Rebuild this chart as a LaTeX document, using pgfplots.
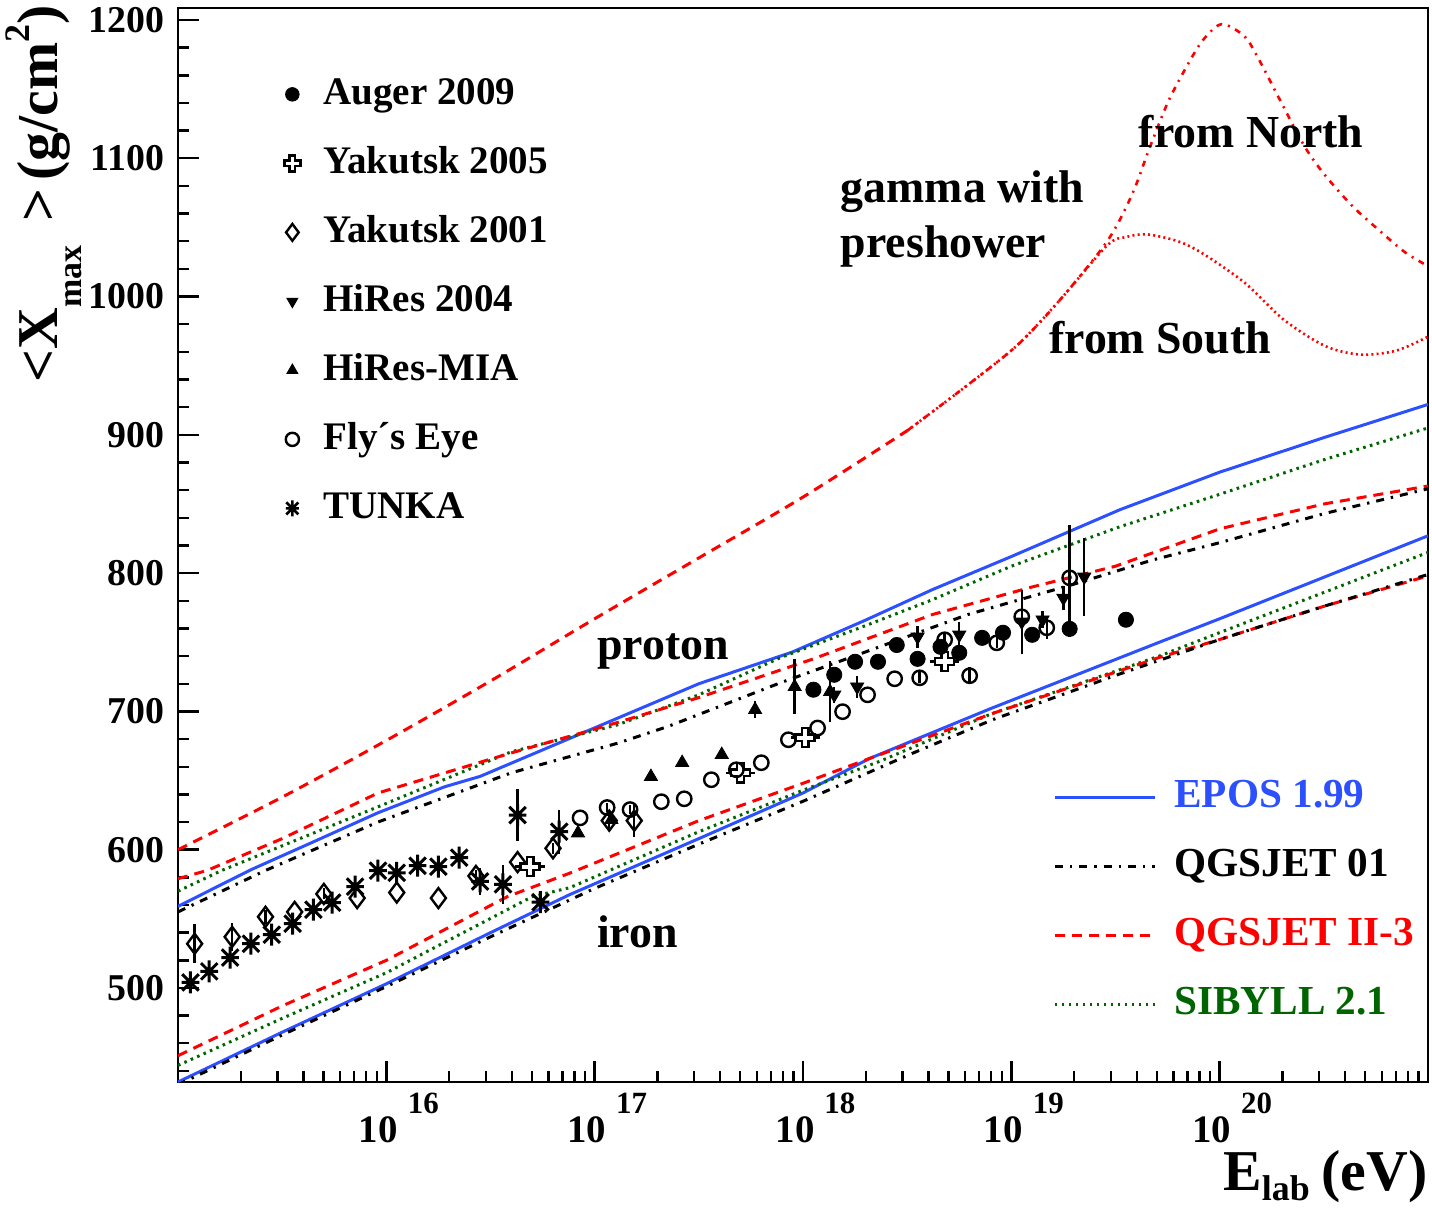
\documentclass[border=0pt]{standalone}
\usepackage{fontspec}
\setmainfont{Liberation Serif}
\usepackage{pgfplots}
\pgfplotsset{compat=1.18}
\usetikzlibrary{plotmarks}

\definecolor{eposblue}{RGB}{45,80,255}
\definecolor{sibgreen}{RGB}{0,100,0}
\definecolor{qred}{RGB}{255,0,0}

\pgfdeclareplotmark{ocross}{%
  \pgfpathmoveto{\pgfqpoint{-0.35\pgfplotmarksize}{\pgfplotmarksize}}%
  \pgfpathlineto{\pgfqpoint{0.35\pgfplotmarksize}{\pgfplotmarksize}}%
  \pgfpathlineto{\pgfqpoint{0.35\pgfplotmarksize}{0.35\pgfplotmarksize}}%
  \pgfpathlineto{\pgfqpoint{\pgfplotmarksize}{0.35\pgfplotmarksize}}%
  \pgfpathlineto{\pgfqpoint{\pgfplotmarksize}{-0.35\pgfplotmarksize}}%
  \pgfpathlineto{\pgfqpoint{0.35\pgfplotmarksize}{-0.35\pgfplotmarksize}}%
  \pgfpathlineto{\pgfqpoint{0.35\pgfplotmarksize}{-\pgfplotmarksize}}%
  \pgfpathlineto{\pgfqpoint{-0.35\pgfplotmarksize}{-\pgfplotmarksize}}%
  \pgfpathlineto{\pgfqpoint{-0.35\pgfplotmarksize}{-0.35\pgfplotmarksize}}%
  \pgfpathlineto{\pgfqpoint{-\pgfplotmarksize}{-0.35\pgfplotmarksize}}%
  \pgfpathlineto{\pgfqpoint{-\pgfplotmarksize}{0.35\pgfplotmarksize}}%
  \pgfpathlineto{\pgfqpoint{-0.35\pgfplotmarksize}{0.35\pgfplotmarksize}}%
  \pgfpathclose
  \pgfusepathqfillstroke
}
\pgfdeclareplotmark{tstar}{%
  \pgfpathmoveto{\pgfqpoint{0pt}{\pgfplotmarksize}}\pgfpathlineto{\pgfqpoint{0pt}{-\pgfplotmarksize}}%
  \pgfpathmoveto{\pgfqpoint{0.75\pgfplotmarksize}{0.75\pgfplotmarksize}}\pgfpathlineto{\pgfqpoint{-0.75\pgfplotmarksize}{-0.75\pgfplotmarksize}}%
  \pgfpathmoveto{\pgfqpoint{-0.75\pgfplotmarksize}{0.75\pgfplotmarksize}}\pgfpathlineto{\pgfqpoint{0.75\pgfplotmarksize}{-0.75\pgfplotmarksize}}%
  \pgfpathmoveto{\pgfqpoint{-0.8\pgfplotmarksize}{0pt}}\pgfpathlineto{\pgfqpoint{0.8\pgfplotmarksize}{0pt}}%
  \pgfusepathqstroke
}

\newcommand{\lbl}[1]{10\hspace{5bp}\raisebox{14.5bp}{\fontsize{15.5}{15.5}\selectfont #1}}

\pgfplotsset{
  modelline/.style={line width=1.5bp, no marks},
  epos/.style={modelline, eposblue, solid},
  qgs1/.style={modelline, black, dash pattern=on 4bp off 3.5bp on 1.2bp off 3.5bp},
  qgs2/.style={modelline, qred, dash pattern=on 5bp off 3.5bp},
  sib/.style={modelline, sibgreen, dash pattern=on 1.3bp off 2.2bp},
  databars/.style={error bars/.cd, y dir=both, y explicit, error mark=none,
     error bar style={line width=1.2bp, black, solid}, /pgfplots/.cd},
}

\begin{document}
\begin{tikzpicture}
\path[use as bounding box] (-89bp,-64bp) rectangle (627bp,541bp);
\begin{axis}[
  at={(0,0)}, anchor=south west,
  scale only axis, width=625bp, height=537bp,
  xmin=15, xmax=21, ymin=432, ymax=1208.7,
  axis line style={line width=1.3bp, black},
  tick style={line width=1.2bp, black},
  major tick length=10.5bp, minor tick length=5.5bp,
  tick align=inside,
  xtick pos=bottom, ytick pos=left,
  xtick={16,17,18,19,20},
  xticklabels={{\lbl{16}},{\lbl{17}},{\lbl{18}},{\lbl{19}},{\lbl{20}}},
  minor xtick={15.301,15.477,15.602,15.699,15.778,15.845,15.903,15.954,
               16.301,16.477,16.602,16.699,16.778,16.845,16.903,16.954,
               17.301,17.477,17.602,17.699,17.778,17.845,17.903,17.954,
               18.301,18.477,18.602,18.699,18.778,18.845,18.903,18.954,
               19.301,19.477,19.602,19.699,19.778,19.845,19.903,19.954,
               20.301,20.477,20.602,20.699,20.778,20.845,20.903,20.954},
  ytick={500,600,700,800,900,1000,1100,1200},
  yticklabels={500,600,700,800,900,1000,1100,1200},
  minor ytick={440,460,...,1200},
  xticklabel style={font=\fontsize{19.5}{19.5}\selectfont\bfseries, anchor=north, inner sep=0pt, xshift=6.25bp, yshift=-5.5bp},
  yticklabel style={font=\fontsize{19}{19}\selectfont\bfseries, anchor=east, inner sep=0pt, xshift=-6.5bp},
  legend cell align=left,
  legend image code/.code={\draw[#1] (0bp,0bp) -- (50bp,0bp);},
  legend style={at={(0.6952,0.2858)}, anchor=north west, draw=none, fill=none,
    font=\fontsize{20.7}{20.7}\selectfont\bfseries,
    nodes={inner sep=0pt, text height=14bp, text depth=4bp},
    column sep=9bp, row sep=16.5bp},
]
\addlegendimage{epos}\addlegendentry{\textcolor{eposblue}{EPOS 1.99}}
\addlegendimage{qgs1}\addlegendentry{\textcolor{black}{QGSJET 01}}
\addlegendimage{qgs2}\addlegendentry{\textcolor{qred}{QGSJET II-3}}
\addlegendimage{sib}\addlegendentry{\textcolor{sibgreen}{SIBYLL 2.1}}

% gamma with preshower
\addplot[qred, line width=1.5bp, smooth, tension=0.5, dash pattern=on 5bp off 3.5bp, forget plot] coordinates {
 (15.0,600) (15.5,638) (16.0,679) (16.5,722) (17.0,767) (17.5,811) (18.0,855) (18.5,903)};
\addplot[qred, line width=1.3bp, smooth, tension=0.5, dash pattern=on 3bp off 3bp on 1bp off 3bp, forget plot] coordinates {
 (18.5,903) (18.79,936) (19.03,965) (19.23,997) (19.46,1040) (19.58,1074) (19.66,1106) (19.75,1140) (19.84,1166) (19.92,1185.5) (20.01,1197) (20.12,1188) (20.19,1171) (20.29,1142) (20.41,1108) (20.51,1087) (20.64,1065) (20.78,1046) (20.89,1032) (21.0,1022)};
\addplot[qred, line width=1.3bp, smooth, tension=0.5, dash pattern=on 1bp off 1.6bp, forget plot] coordinates {
 (18.5,903) (18.79,936) (19.03,965) (19.23,997) (19.46,1037) (19.55,1043) (19.65,1045) (19.8,1040) (19.92,1031) (20.12,1010) (20.31,983) (20.51,964) (20.68,958) (20.85,961) (21.0,971)};

% proton
\addplot[epos, forget plot] coordinates {
 (15.0,559) (15.35,585.5) (15.64,605) (15.96,626.7) (16.28,645.5) (16.45,653) (17.5,720) (17.95,743) (18.3,766) (18.62,788) (19.0,812) (19.52,845.8) (20.0,873) (20.5,898) (21.0,922)};
\addplot[sib, forget plot] coordinates {
 (15.0,570) (15.21,585) (15.96,631) (16.6,670.8) (17.11,690.3) (17.5,712) (17.89,738.8) (18.3,762) (18.62,780.7) (19.0,805) (19.52,833.5) (20.0,857) (20.5,882) (21.0,905)};
\addplot[qgs2, forget plot] coordinates {
 (15.0,579) (15.14,585) (15.5,608) (15.96,641) (16.6,670) (16.95,685) (17.11,692) (17.5,710) (18.05,738) (18.62,770) (19.1,790) (19.5,805) (20.0,832) (20.5,850) (21.0,863)};
\addplot[qgs1, forget plot] coordinates {
 (15.0,555) (15.42,585) (15.96,620) (16.6,655.6) (17.11,677) (17.35,689) (17.89,720.6) (18.3,743) (18.79,770) (19.3,792) (19.68,809.6) (20.0,822) (20.5,843) (21.0,861)};

% iron
\addplot[epos, forget plot] coordinates {
 (15.0,432) (15.5,468) (16.0,503) (16.5,540) (16.88,567.5) (17.5,608) (18.0,641) (18.32,666) (18.9,702) (19.71,750) (20.0,767) (20.5,797) (21.0,827)};
\addplot[sib, forget plot] coordinates {
 (15.0,444) (15.5,478) (16.0,511) (16.7,566) (16.88,572.5) (17.5,613) (18.0,643) (18.37,664) (18.9,698) (19.71,740) (20.0,757) (20.5,786) (21.0,815)};
\addplot[qgs2, forget plot] coordinates {
 (15.0,451) (15.5,487) (16.0,520) (16.58,566) (16.88,583) (17.5,621) (18.0,648) (18.32,666) (18.9,698) (19.71,739) (20.0,752) (20.5,776) (21.0,798)};
\addplot[qgs1, forget plot] coordinates {
 (15.0,430) (15.5,466) (16.0,501) (16.5,537) (17.0,572) (17.5,604) (18.0,635) (18.53,670) (18.91,694) (19.5,726) (20.0,752) (20.5,776) (21.0,799)};

% TUNKA
\addplot[forget plot, only marks, mark=tstar, mark size=5.5bp, line width=1.5bp, black, databars] coordinates {
 (15.06,504) +- (0,0) (15.15,512) +- (0,0) (15.25,522) +- (0,0) (15.35,532) +- (0,0)
 (15.45,538.5) +- (0,0) (15.55,546.5) +- (0,0) (15.65,556.6) +- (0,0) (15.74,561.7) +- (0,0)
 (15.85,573.3) +- (0,0) (15.96,584.8) +- (0,0) (16.05,583.3) +- (0,0) (16.15,588.4) +- (0,0)
 (16.25,587.7) +- (0,0) (16.35,594.2) +- (0,0) (16.45,577) +- (0,10) (16.56,575) +- (0,14)
 (16.63,625) +- (0,19) (16.74,562) +- (0,0) (16.83,613) +- (0,16)};
% Yakutsk 2001
\addplot[forget plot, only marks, mark=diamond, mark size=5bp, line width=1.2bp, black, databars] coordinates {
 (15.08,532) +- (0,14) (15.26,537) +- (0,10) (15.42,551.5) +- (0,5) (15.56,555) +- (0,0)
 (15.70,568) +- (0,4) (15.86,565) +- (0,0) (16.05,569) +- (0,0) (16.25,565) +- (0,0)
 (16.43,581) +- (0,4) (16.63,591) +- (0,0) (16.80,601) +- (0,4) (17.07,621) +- (0,7) (17.19,621) +- (0,12)};
% Yakutsk 2005
\addplot[forget plot, only marks, mark=ocross, mark size=4.8bp, line width=1.2bp, black, fill=white,
  error bars/.cd, x dir=both, x explicit, y dir=both, y explicit, error mark=none,
  error bar style={line width=1.2bp, black}] coordinates {
 (16.69,587.7) +- (0.07,0) (17.70,655.6) +- (0.07,0) (18.01,681) +- (0.07,0) (18.68,736) +- (0.07,0)};
% HiRes-MIA
\addplot[forget plot, only marks, mark=triangle*, mark size=3.8bp, black, databars] coordinates {
 (16.92,612) +- (0,0) (17.08,621.7) +- (0,0) (17.27,652.8) +- (0,2) (17.42,662.9) +- (0,3)
 (17.61,668.7) +- (0,3) (17.77,701.2) +- (0,6) (17.96,717.8) +- (0,20) (18.13,714.2) +- (0,22)};
% HiRes 2004
\addplot[forget plot, only marks, mark=triangle*, mark size=3.8bp, mark options={rotate=180}, black, databars] coordinates {
 (18.15,712) +- (0,6) (18.26,717.8) +- (0,8) (18.55,753.9) +- (0,8) (18.75,755.4) +- (0,9)
 (19.05,764.8) +- (0,23) (19.15,766.3) +- (0,6) (19.25,782) +- (0,9) (19.35,797.3) +- (0,28)};
% Fly's Eye
\addplot[forget plot, only marks, mark=o, mark size=3.6bp, line width=1.2bp, black, databars] coordinates {
 (16.93,623) +- (0,0) (17.06,630.5) +- (0,3) (17.17,629) +- (0,3) (17.32,634.7) +- (0,0)
 (17.43,636.8) +- (0,0) (17.56,650.6) +- (0,0) (17.68,657.8) +- (0,0) (17.80,662.9) +- (0,0)
 (17.93,679.5) +- (0,0) (18.07,688) +- (0,0) (18.19,699.8) +- (0,0) (18.31,712) +- (0,0)
 (18.44,723.6) +- (0,0) (18.56,724.3) +- (0,4) (18.68,751.8) +- (0,4) (18.80,725.8) +- (0,6)
 (18.93,749.6) +- (0,4) (19.05,768.4) +- (0,15) (19.17,760.5) +- (0,8) (19.28,796.6) +- (0,38)};
% Auger 2009
\addplot[forget plot, only marks, mark=*, mark size=3.8bp, black, databars] coordinates {
 (18.05,715.7) +- (0,5) (18.15,726.5) +- (0,5) (18.25,735.9) +- (0,4) (18.36,735.9) +- (0,5)
 (18.45,748) +- (0,4) (18.55,738) +- (0,5) (18.66,746.7) +- (0,4) (18.75,742.4) +- (0,5)
 (18.86,753.2) +- (0,4) (18.96,756.9) +- (0,5) (19.10,755.4) +- (0,5) (19.28,759.7) +- (0,6)
 (19.55,766.3) +- (0,0)};

\node[anchor=base west, inner sep=0pt, font=\fontsize{23}{23}\selectfont\bfseries] at (axis cs:17.01,737.3) {proton};
\node[anchor=base west, inner sep=0pt, font=\fontsize{23}{23}\selectfont\bfseries] at (axis cs:17.01,529) {iron};
\node[anchor=base west, inner sep=0pt, font=\fontsize{23}{23}\selectfont\bfseries] at (axis cs:18.18,1068) {gamma with};
\node[anchor=base west, inner sep=0pt, font=\fontsize{23}{23}\selectfont\bfseries] at (axis cs:18.18,1028) {preshower};
\node[anchor=base west, inner sep=0pt, font=\fontsize{23}{23}\selectfont\bfseries] at (axis cs:19.61,1108) {from North};
\node[anchor=base west, inner sep=0pt, font=\fontsize{23}{23}\selectfont\bfseries] at (axis cs:19.18,959) {from South};
\end{axis}

\begin{axis}[
  at={(0,0)}, anchor=south west,
  scale only axis, width=625bp, height=537bp,
  xmin=15, xmax=21, ymin=432, ymax=1208.7,
  hide axis,
  legend cell align=left,
  legend image code/.code={\path[draw=none, fill=none] (0bp,0bp) -- (16bp,0bp); \draw[#1] plot coordinates {(8bp,0bp)};},
  legend style={at={(0.0736,0.9404)}, anchor=north west, draw=none, fill=none,
    font=\fontsize{19.6}{19.6}\selectfont\bfseries,
    nodes={inner sep=0pt, text height=14bp, text depth=4bp},
    column sep=7.5bp, row sep=16.5bp},
]
\addlegendimage{mark=*, mark size=3.4bp, black}\addlegendentry{Auger 2009}
\addlegendimage{mark=ocross, mark size=4bp, line width=1.2bp, black, fill=white}\addlegendentry{Yakutsk 2005}
\addlegendimage{mark=diamond, mark size=4.2bp, line width=1.2bp, black}\addlegendentry{Yakutsk 2001}
\addlegendimage{mark=triangle*, mark size=3.2bp, mark options={rotate=180}, black}\addlegendentry{HiRes 2004}
\addlegendimage{mark=triangle*, mark size=3.2bp, black}\addlegendentry{HiRes-MIA}
\addlegendimage{mark=o, mark size=3.3bp, line width=1.2bp, black}\addlegendentry{Fly´s Eye}
\addlegendimage{mark=tstar, mark size=4bp, line width=1.3bp, black}\addlegendentry{TUNKA}
\end{axis}

\node[rotate=90, anchor=base east, inner sep=0pt, font=\fontsize{29}{29}\selectfont\bfseries] at (-60bp,538.5bp)
  {<X\raisebox{-12bp}{\fontsize{17}{17}\selectfont max}\hspace{12bp}>\hspace{4bp}(g/cm\raisebox{14bp}{\fontsize{18}{18}\selectfont 2})};
\node[anchor=base east, inner sep=0pt, font=\fontsize{29}{29}\selectfont\bfseries] at (625bp,-54bp)
  {E\raisebox{-5bp}{\fontsize{18}{18}\selectfont lab}\hspace{6bp}(eV)};
\end{tikzpicture}
\end{document}
